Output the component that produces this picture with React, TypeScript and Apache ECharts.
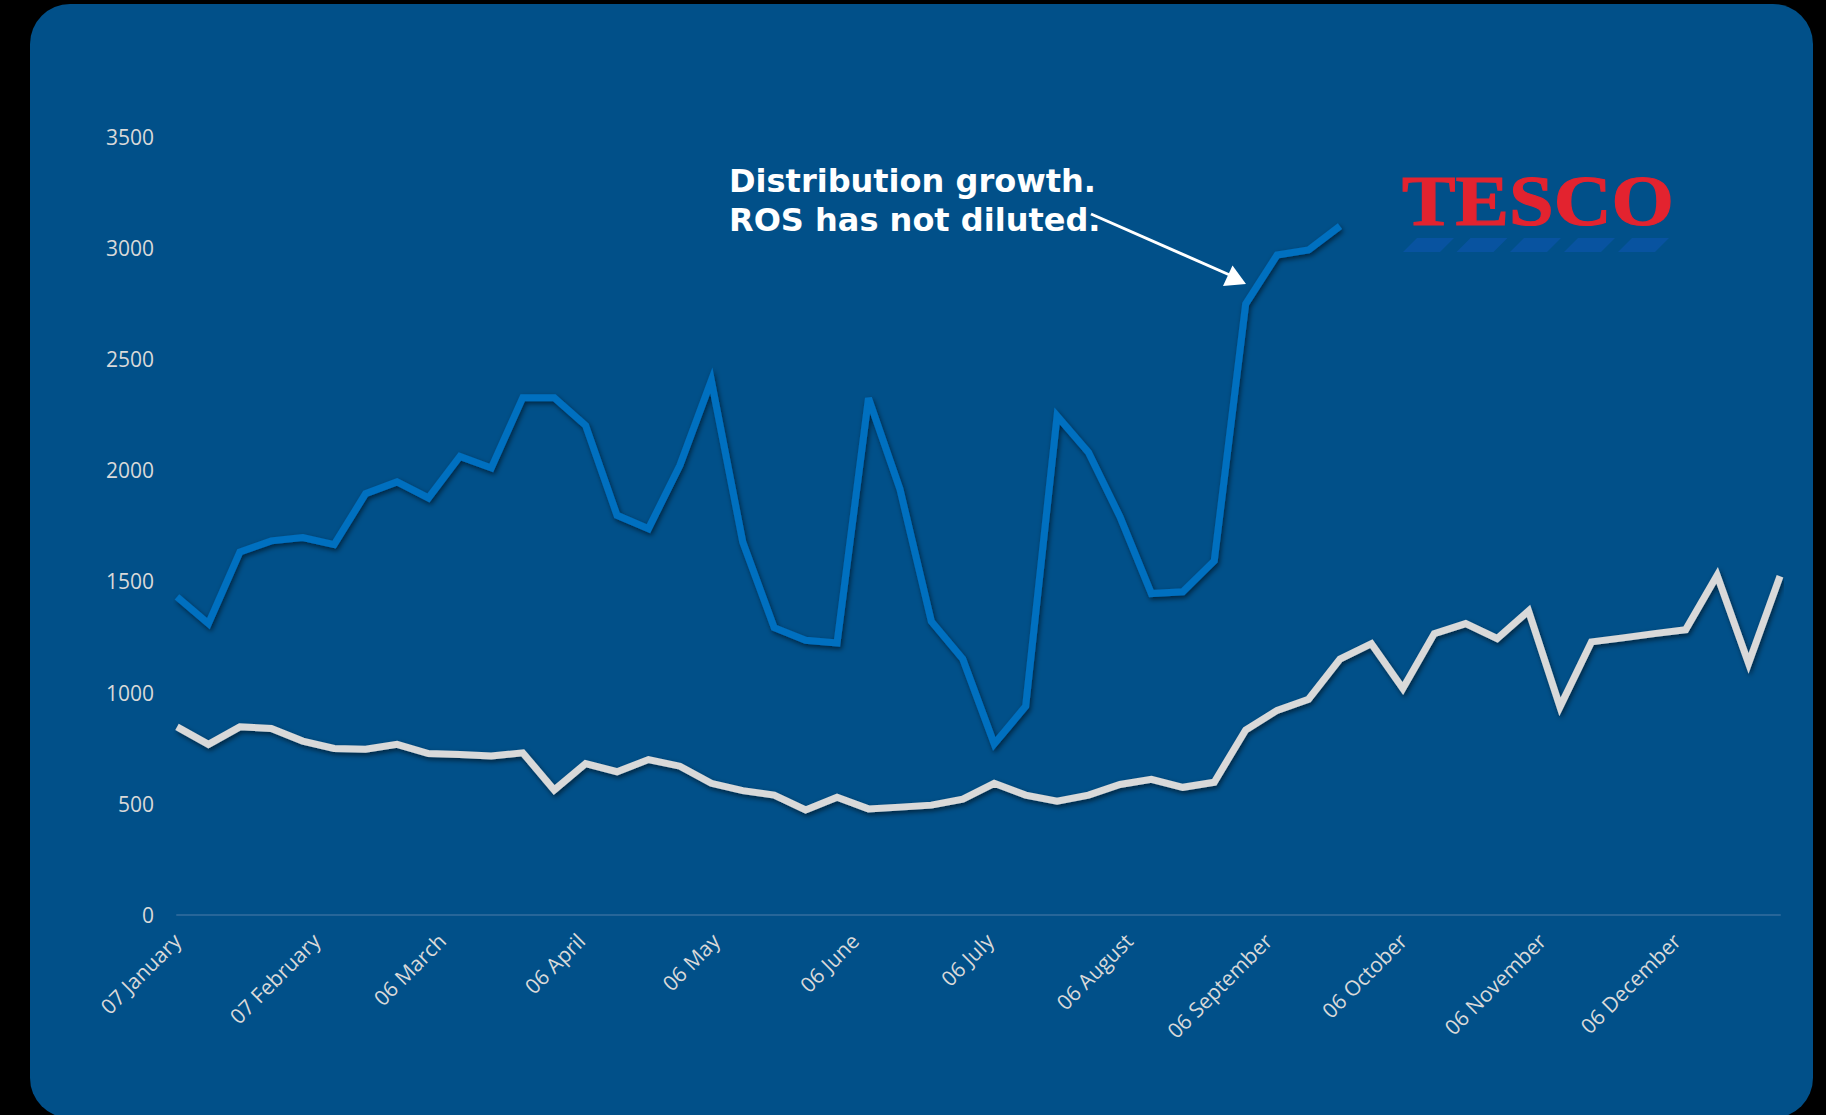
import React, { useEffect, useRef } from 'react';
import * as echarts from 'echarts';

// Weekly observation dates (week commencing)
const weekDates: string[] = [
  '2024-01-07', '2024-01-14', '2024-01-21', '2024-01-28',
  '2024-02-04', '2024-02-11', '2024-02-18', '2024-02-25',
  '2024-03-03', '2024-03-10', '2024-03-17', '2024-03-24', '2024-03-31',
  '2024-04-07', '2024-04-14', '2024-04-21', '2024-04-28',
  '2024-05-05', '2024-05-12', '2024-05-19', '2024-05-26',
  '2024-06-02', '2024-06-09', '2024-06-16', '2024-06-23', '2024-06-30',
  '2024-07-07', '2024-07-14', '2024-07-21', '2024-07-28',
  '2024-08-04', '2024-08-11', '2024-08-18', '2024-08-25',
  '2024-09-01', '2024-09-08', '2024-09-15', '2024-09-22', '2024-09-29',
  '2024-10-06', '2024-10-13', '2024-10-20', '2024-10-27',
  '2024-11-03', '2024-11-10', '2024-11-17', '2024-11-24',
  '2024-12-01', '2024-12-08', '2024-12-15', '2024-12-22', '2024-12-29',
];

// Blue line (distribution) – stops in late September
const distributionValues: number[] = [
  1430, 1310, 1632, 1682, 1697, 1665, 1894, 1947, 1875, 2062,
  2010, 2326, 2326, 2201, 1797, 1737, 2022, 2403, 1677, 1292,
  1235, 1223, 2324, 1915, 1320, 1151, 769, 938, 2244, 2080,
  1791, 1445, 1453, 1592, 2747, 2967, 2990, 3097,
];

// Light grey line (rate of sale)
const rosValues: number[] = [
  846, 767, 846, 839, 782, 749, 745, 767, 726, 722,
  715, 729, 562, 681, 644, 699, 669, 592, 559, 539,
  472, 529, 477, 485, 494, 521, 592, 539, 512, 539,
  587, 610, 574, 597, 832, 920, 970, 1151, 1220, 1018,
  1265, 1310, 1243, 1367, 936, 1228, 1246, 1265, 1283, 1527,
  1131, 1523,
];

// X-axis tick label dates
const xTickDates: string[] = [
  '2024-01-07', '2024-02-07', '2024-03-06', '2024-04-06', '2024-05-06', '2024-06-06',
  '2024-07-06', '2024-08-06', '2024-09-06', '2024-10-06', '2024-11-06', '2024-12-06',
];

const monthNames: string[] = [
  'January', 'February', 'March', 'April', 'May', 'June',
  'July', 'August', 'September', 'October', 'November', 'December',
];

const yMin = 0;
const yMax = 3500;
const yInterval = 500;

const annotationLines: string[] = ['Distribution growth.', 'ROS has not diluted.'];
const logoText = 'TESCO';

const DAY = 86400000;
const toTs = (s: string): number => {
  const [y, m, d] = s.split('-').map(Number);
  return Date.UTC(y, m - 1, d);
};
const originTs = toTs(weekDates[0]);
const toDay = (s: string): number => Math.round((toTs(s) - originTs) / DAY);

const fmtDay = (v: number): string => {
  const dt = new Date(originTs + Math.round(v) * DAY);
  const day = String(dt.getUTCDate()).padStart(2, '0');
  return day + ' ' + monthNames[dt.getUTCMonth()];
};

export default function App() {
  const ref = useRef<HTMLDivElement>(null);

  useEffect(() => {
    document.body.style.margin = '0';
    document.body.style.background = '#000';
    const chart = echarts.init(ref.current!, null, { renderer: 'svg' });

    const dashStarts = [1403, 1456.5, 1510, 1564, 1618];
    const dashes = dashStarts.map((x0) => ({
      type: 'polygon',
      z: 20,
      shape: {
        points: [
          [x0, 252],
          [x0 + 37, 252],
          [x0 + 51, 238],
          [x0 + 14, 238],
        ],
      },
      style: { fill: '#0853a0' },
    }));

    const lineShadow = {
      shadowColor: 'rgba(0,0,0,0.55)',
      shadowBlur: 5,
      shadowOffsetX: 1.5,
      shadowOffsetY: 2.5,
    };

    chart.setOption({
      animation: false,
      backgroundColor: '#000000',
      grid: { left: 177, right: 46, top: 136.5, bottom: 200, containLabel: false },
      xAxis: {
        type: 'value',
        min: 0,
        max: toDay(weekDates[weekDates.length - 1]),
        axisLine: { show: true, onZero: false, lineStyle: { color: '#276699', width: 2 } },
        axisTick: { show: false },
        splitLine: { show: false },
        axisLabel: {
          customValues: xTickDates.map(toDay),
          formatter: (v: number) => fmtDay(v),
          rotate: 45,
          margin: 22,
          color: '#d9d9d9',
          fontSize: 21,
          fontFamily: 'Open Sans',
          hideOverlap: false,
        },
      },
      yAxis: {
        type: 'value',
        min: yMin,
        max: yMax,
        interval: yInterval,
        axisLine: { show: false },
        axisTick: { show: false },
        splitLine: { show: false },
        axisLabel: {
          formatter: (v: number) => String(v),
          color: '#d9d9d9',
          fontSize: 21,
          fontFamily: 'Open Sans',
          margin: 23,
        },
      },
      series: [
        {
          name: 'Distribution',
          type: 'line',
          data: distributionValues.map((v, i) => [toDay(weekDates[i]), v]),
          showSymbol: false,
          symbol: 'none',
          lineStyle: { color: '#0070c0', width: 7, join: 'miter', ...lineShadow },
          z: 3,
        },
        {
          name: 'ROS',
          type: 'line',
          data: rosValues.map((v, i) => [toDay(weekDates[i]), v]),
          showSymbol: false,
          symbol: 'none',
          lineStyle: { color: '#d9d9d9', width: 7, join: 'miter', ...lineShadow },
          z: 3,
        },
      ],
      graphic: [
        {
          type: 'rect',
          z: -10,
          silent: true,
          shape: { x: 30, y: 4, width: 1783, height: 1114, r: 40 },
          style: { fill: '#015089' },
        },
        {
          type: 'text',
          z: 20,
          x: 729,
          y: 181,
          style: {
            text: annotationLines[0],
            fill: '#ffffff',
            font: 'bold 32px "DejaVu Sans"',
            textAlign: 'left',
            textVerticalAlign: 'middle',
          },
        },
        {
          type: 'text',
          z: 20,
          x: 729,
          y: 220,
          style: {
            text: annotationLines[1],
            fill: '#ffffff',
            font: 'bold 32px "DejaVu Sans"',
            textAlign: 'left',
            textVerticalAlign: 'middle',
          },
        },
        {
          type: 'line',
          z: 20,
          shape: { x1: 1091, y1: 214, x2: 1232, y2: 276 },
          style: { stroke: '#ffffff', lineWidth: 3 },
        },
        {
          type: 'polygon',
          z: 20,
          shape: { points: [[1246, 284], [1232.5, 265.5], [1223, 286]] },
          style: { fill: '#ffffff' },
        },
        {
          type: 'text',
          z: 20,
          x: 1402,
          y: 201,
          scaleX: 1.13,
          style: {
            text: logoText,
            fill: '#e3232f',
            stroke: '#e3232f',
            lineWidth: 1.2,
            font: 'bold 71px "Liberation Serif"',
            textAlign: 'left',
            textVerticalAlign: 'middle',
          },
        },
        ...dashes,
      ],
    });

    return () => chart.dispose();
  }, []);

  return (
    <div
      ref={ref}
      style={{ position: 'absolute', left: 0, top: 0, width: 1826, height: 1115 }}
    />
  );
}
